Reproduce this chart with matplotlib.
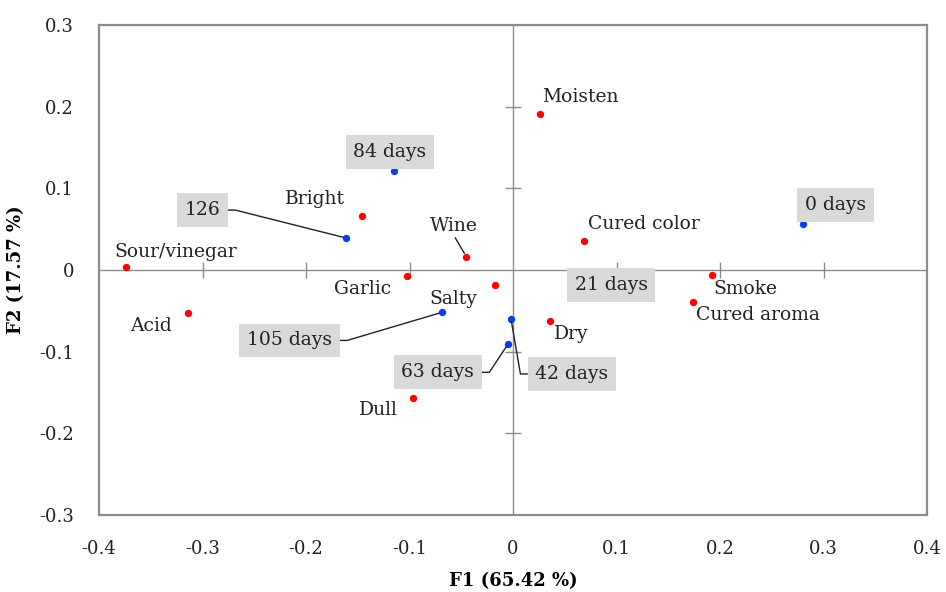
import matplotlib
matplotlib.use('Agg')
import matplotlib.pyplot as plt
import numpy as np

plt.rcParams['font.family'] = ['DejaVu Serif']

# sensory attributes (red)
attr_names = ["Moisten", "Bright", "Wine", "Cured color", "Sour/vinegar", "Garlic",
              "Salty", "Smoke", "Cured aroma", "Acid", "Dry", "Dull"]
attr_f1 = [0.026, -0.146, -0.045, 0.069, -0.374, -0.102, -0.017, 0.192, 0.174, -0.314, 0.036, -0.097]
attr_f2 = [0.191, 0.066, 0.016, 0.035, 0.004, -0.007, -0.018, -0.006, -0.039, -0.053, -0.062, -0.157]

# ripening times (blue)
sample_names = ["0 days", "21 days", "42 days", "63 days", "84 days", "105 days", "126"]
sample_f1 = [0.280, 0.085, -0.002, -0.005, -0.115, -0.069, -0.161]
sample_f2 = [0.056, -0.020, -0.060, -0.091, 0.121, -0.052, 0.039]

# label offsets in pixels
attr_off = {"Moisten": (40, 17), "Bright": (-47, 17), "Wine": (-13, 31), "Cured color": (59, 17),
            "Sour/vinegar": (50, 15), "Garlic": (-45, -13), "Salty": (-42, -14), "Smoke": (34, -14),
            "Cured aroma": (65, -13), "Acid": (-37, -13), "Dry": (21, -13), "Dull": (-34, -12)}
sample_off = {"0 days": (33, 19), "21 days": (10, 1), "42 days": (61, -55), "63 days": (-70, -28),
              "84 days": (-4, 19), "105 days": (-152, -28), "126": (-144, 28)}

fig = plt.figure(figsize=(9.46, 5.92), dpi=100)
ax = fig.add_axes([0.1047, 0.130, 0.8753, 0.828])
fs = 13
lfs = 13.5

ax.set_xlim(-0.4, 0.4)
ax.set_ylim(-0.3, 0.3)
xt = np.round(np.arange(-0.4, 0.41, 0.1), 1)
yt = np.round(np.arange(-0.3, 0.31, 0.1), 1)
ax.set_xticks(xt)
ax.set_yticks(yt)
ax.set_xticklabels(['0' if v == 0 else f'{v:g}' for v in xt])
ax.set_yticklabels(['0' if v == 0 else f'{v:g}' for v in yt])
ax.tick_params(length=0, labelsize=fs, pad=18, colors='#222222')
for s in ax.spines.values():
    s.set_color('#8c8c8c')
    s.set_linewidth(1.6)

# centre axes with crossing ticks
ax.axhline(0, color='#8c8c8c', lw=1, zorder=1)
ax.axvline(0, color='#8c8c8c', lw=1, zorder=1)
ix = xt[(xt != 0) & (np.abs(xt) < 0.4)]
iy = yt[(yt != 0) & (np.abs(yt) < 0.3)]
ax.plot(ix, np.zeros_like(ix), ls='none', marker='|', ms=11, mew=1, color='#8c8c8c', zorder=1)
ax.plot(np.zeros_like(iy), iy, ls='none', marker='_', ms=11, mew=1, color='#8c8c8c', zorder=1)

ax.scatter(attr_f1, attr_f2, s=28, color='#ff0000', zorder=3, linewidths=0)
ax.scatter(sample_f1, sample_f2, s=28, color='#0a3cf0', zorder=3, linewidths=0)

for name, x, y in zip(attr_names, attr_f1, attr_f2):
    kw = {}
    if name == "Wine":
        kw['arrowprops'] = dict(arrowstyle='-', color='#222222', lw=1, relpos=(0.5, 0.0),
                                shrinkA=0, shrinkB=3)
    ax.annotate(name, (x, y), xytext=attr_off[name], textcoords='offset pixels',
                ha='center', va='center', fontsize=lfs, color='#222222', zorder=4, **kw)

box = dict(boxstyle='square,pad=0.42', fc='#d9d9d9', ec='none')
leaders = {"126": ((1, 0.5), 0), "105 days": ((1, 0.5), 0),
           "63 days": ((1, 0.5), 0), "42 days": ((0, 0.5), 180)}
for name, x, y in zip(sample_names, sample_f1, sample_f2):
    kw = {}
    if name in leaders:
        rp, ang = leaders[name]
        kw['arrowprops'] = dict(arrowstyle='-', color='#222222', lw=1, relpos=rp,
                                connectionstyle=f'arc,angleA={ang},armA=15,angleB=0,armB=0,rad=0',
                                shrinkA=0, shrinkB=2)
    ax.annotate(name, (x, y), xytext=sample_off[name], textcoords='offset pixels',
                ha='center', va='center', fontsize=lfs, color='#222222', bbox=box, zorder=5, **kw)

ax.set_xlabel('F1 (65.42 %)', fontsize=fs, fontweight='bold', labelpad=10)
ax.set_ylabel('F2 (17.57 %)', fontsize=fs, fontweight='bold', labelpad=10)

fig.savefig('out.png', dpi=100)
